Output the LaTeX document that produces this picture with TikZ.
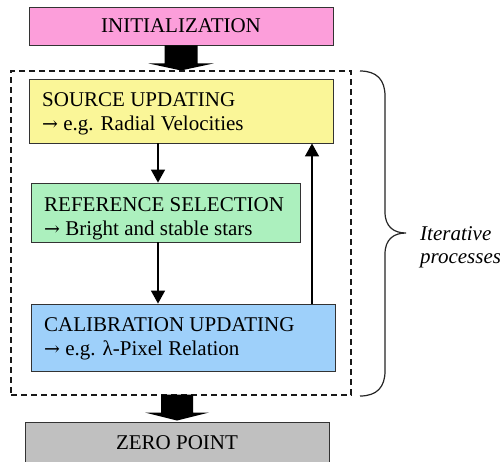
\documentclass[tikz,border=0pt]{standalone}
\usepackage{fontspec}
\setmainfont{Liberation Serif}[Ligatures=TeX]
\newfontfamily\tmsfont{Liberation Serif}
\newfontfamily\arrowfont{DejaVu Serif}
\usetikzlibrary{arrows.meta,calc}
\definecolor{pinkc}{RGB}{252,158,218}
\definecolor{yellowc}{RGB}{250,246,152}
\definecolor{greenc}{RGB}{172,240,190}
\definecolor{bluec}{RGB}{158,208,250}
\definecolor{grayc}{RGB}{192,192,192}
\newcommand{\arw}{{\arrowfont\fontsize{19}{24}\selectfont →}}
\begin{document}
\begin{tikzpicture}[x=1pt,y=-1pt,
  stagebox/.style={draw=black!80, line width=0.9pt, inner sep=0pt,
    font=\tmsfont\fontsize{21}{24}\selectfont},
  lbl/.style={font=\tmsfont\fontsize{21}{24}\selectfont, inner sep=0pt, align=left, anchor=base west},
  loopbox/.style={draw=black!90, line width=1.3pt, dash pattern=on 6pt off 4pt, inner sep=0pt},
  arr/.style={line width=1.5pt, -{Triangle[width=14pt,length=13pt]}},
  blockarrow/.style={fill=black},
  bracestyle/.style={draw=black!85, line width=1.2pt},
  note/.style={font=\tmsfont\fontsize{21}{23}\selectfont\itshape, inner sep=0pt, align=left, anchor=base west},
]
\useasboundingbox (0,0) rectangle (500,461);
\fill[white] (0,0) rectangle (500,461);

% dashed iteration frame
\node[loopbox, minimum width=340pt, minimum height=324pt] (loop) at (181,233) {};

% stage boxes
\node[stagebox, fill=pinkc, minimum width=304pt, minimum height=38pt] (init) at (181,26) {INITIALIZATION};
\node[stagebox, fill=yellowc, minimum width=304pt, minimum height=64pt] (src) at (181,111) {};
\node[stagebox, fill=greenc, minimum width=269pt, minimum height=59pt] (sel) at (165.5,212.5) {};
\node[stagebox, fill=bluec, minimum width=304pt, minimum height=67pt] (cal) at (183,337.5) {};
\node[stagebox, fill=grayc, minimum width=304pt, minimum height=42pt] (zero) at (177,443) {ZERO POINT};

% box texts (base anchor = last line baseline)
\node[lbl] (srcT) at (42,130) {SOURCE UPDATING\\\arw{} e.g. Radial Velocities};
\node[lbl] (selT) at (44,235) {REFERENCE SELECTION\\\arw{} Bright and stable stars};
\node[lbl] (calT) at (44,355) {CALIBRATION UPDATING\\\arw{} e.g. λ-Pixel Relation};

% thin arrows
\draw[arr] ([xshift=-23pt]src.south) -- ([xshift=-23pt]src.south |- sel.north);
\draw[arr] ([xshift=-7.5pt]sel.south) -- ([xshift=-7.5pt]sel.south |- cal.north);
\draw[arr] ([xshift=129pt]cal.north) -- ([xshift=129pt]cal.north |- src.south);

% block arrows
\fill[blockarrow] ($(init.south)+(-16.5,0)$) -- ($(init.south)+(16.5,0)$)
  -- ($(init.south)+(16.5,18)$) -- ($(init.south)+(32.5,18)$)
  -- ($(init.south)+(0,25)$) -- ($(init.south)+(-32.5,18)$)
  -- ($(init.south)+(-16.5,18)$) -- cycle;
\fill[blockarrow] ($(zero.north)+(-16,-27)$) -- ($(zero.north)+(16,-27)$)
  -- ($(zero.north)+(16,-9)$) -- ($(zero.north)+(32,-9)$)
  -- ($(zero.north)+(0,-1)$) -- ($(zero.north)+(-32,-9)$)
  -- ($(zero.north)+(-16,-9)$) -- cycle;

% brace and its label
\node[note] (iter) at (420,263) {Iterative\\processes};
\draw[bracestyle] (360,71) .. controls (377,71) and (385,80) .. (385,96)
  -- (385,212) .. controls (385,227) and (394,233) .. (406,233)
  .. controls (394,233) and (385,239) .. (385,254)
  -- (385,371) .. controls (385,387) and (377,396) .. (360,396);
\end{tikzpicture}
\end{document}
